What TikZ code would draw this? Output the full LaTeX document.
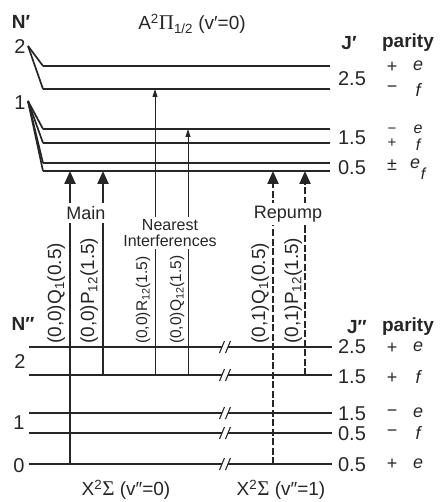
\documentclass[tikz,border=0pt]{standalone}
\usepackage{fontspec}
\setmainfont{Liberation Sans}
\newfontfamily\grk{Liberation Serif}
\usetikzlibrary{arrows.meta}
\newcommand\myfs[1]{\fontsize{#1}{#1}\selectfont}
\begin{document}
\begin{tikzpicture}[x=1pt,y=-1pt,
  every node/.style={text=black!85, inner sep=0pt},
  lvl/.style={line width=2.2pt, draw=black!85},
  fan/.style={line width=1.7pt, draw=black!85},
  brk/.style={line width=1.1pt, draw=black!85},
  bigarrow/.style={line width=2.3pt, draw=black!85, -{Triangle[length=13pt,width=11pt]}},
  thinarrow/.style={line width=0.9pt, draw=black!85, -{Triangle[length=8pt,width=5pt]}},
  dasharrow/.style={bigarrow, dash pattern=on 7pt off 2.5pt},
  numlbl/.style={font=\myfs{20}},
  sgn/.style={font=\myfs{18}},
  par/.style={font=\myfs{18}\itshape},
  small/.style={font=\myfs{15}},
  hdr/.style={font=\myfs{19}\bfseries},
  rot/.style={font=\myfs{19}, rotate=90, anchor=base west},
  rotsmall/.style={rot, font=\myfs{15.5}},
  tag/.style={fill=white, inner sep=2pt}
]
\useasboundingbox (0,0) rectangle (440,502);

% ---------- headers ----------
\node[hdr] (Np) at (21,22) {N′};
\node[font=\myfs{19}] (title) at (192,24) {A\textsuperscript{2}{\grk\myfs{21}Π}\textsubscript{1/2} (v′=0)};
\node[hdr] (Jp) at (349,43) {J′};
\node[hdr] (parU) at (408,43) {parity};
\node[hdr] (Npp) at (23,324) {N″};
\node[hdr] (Jpp) at (357,327) {J″};
\node[hdr] (parL) at (408,327) {parity};

% ---------- upper state ----------
\node[numlbl] (n2u) at (20,47) {2};
\node[numlbl] (n1u) at (20,103) {1};
\coordinate (a2) at (28,46);
\coordinate (a1) at (28,101);
\foreach \y/\n in {66/u2a,89/u2b,129/u1a,143/u1b,163/u1c,171/u1d}{
  \coordinate (\n s) at (43,\y);
  \coordinate (\n e) at (330,\y);
  \draw[lvl] (\n s) -- (\n e);
}
\draw[fan] (a2) -- (u2as);
\draw[fan] (a2) -- (u2bs);
\draw[fan] (a1) -- (u1as);
\draw[fan] (a1) -- (u1bs);
\draw[fan] (a1) -- (u1cs);
\draw[fan] (a1) -- (u1ds);

\node[numlbl] (j25u) at (352,79) {2.5};
\node[sgn] (s25a) at (392,67) {+};
\node[par] (p25a) at (418,66) {e};
\node[sgn] (s25b) at (392,89) {−};
\node[par] (p25b) at (418,90) {f};
\node[numlbl] (j15u) at (352,138) {1.5};
\node[small] (s15a) at (392,131) {−};
\node[small] (s15b) at (392,143) {+};
\node[font=\myfs{16}\itshape] (p15a) at (418,129) {e};
\node[font=\myfs{16}\itshape] (p15b) at (418,145) {f};
\node[numlbl] (j05u) at (352,168) {0.5};
\node[sgn] (s05u) at (392,165) {±};
\node[par] (p05u) at (415,164) {e};
\node[font=\myfs{16}\itshape] (p05f) at (423,174) {f};

% ---------- lower state ----------
\node[numlbl] (n2l) at (20,362) {2};
\node[numlbl] (n1l) at (19,423) {1};
\node[numlbl] (n0l) at (19,466) {0};
\foreach \y/\n in {347/l25,375/l15b,413/l15a,433/l05a,464/l05}{
  \coordinate (\n s) at (29,\y);
  \coordinate (\n e) at (332,\y);
  \coordinate (\n b) at (222,\y);
  \coordinate (\n c) at (228,\y);
  \draw[lvl] (\n s) -- (\n b);
  \draw[lvl] (\n c) -- (\n e);
  \draw[brk] ([shift={(-2.5,6)}]\n b) -- ([shift={(2.5,-6)}]\n b);
  \draw[brk] ([shift={(-2.5,6)}]\n c) -- ([shift={(2.5,-6)}]\n c);
}
\node[numlbl] (j25l) at (352,347) {2.5};
\node[sgn] (s25l) at (392,348) {+};
\node[par] (p25l) at (418,347) {e};
\node[numlbl] (j15l) at (352,377) {1.5};
\node[sgn] (s15l) at (392,378) {+};
\node[par] (p15l) at (418,377) {f};
\node[numlbl] (j15m) at (352,414) {1.5};
\node[sgn] (s15m) at (392,413) {−};
\node[par] (p15m) at (418,413) {e};
\node[numlbl] (j05m) at (352,434) {0.5};
\node[sgn] (s05m) at (392,433) {−};
\node[par] (p05m) at (418,433) {f};
\node[numlbl] (j05l) at (352,465) {0.5};
\node[sgn] (s05l) at (392,464) {+};
\node[par] (p05l) at (418,464) {e};

% ---------- transitions ----------
\coordinate (mq1lo) at (70,464);  \coordinate (mq1hi) at (70,171);
\coordinate (mp12lo) at (103,375); \coordinate (mp12hi) at (103,171);
\coordinate (r12lo) at (155,375); \coordinate (r12hi) at (155,89);
\coordinate (q12lo) at (188,375); \coordinate (q12hi) at (188,129);
\coordinate (rq1lo) at (273,464); \coordinate (rq1hi) at (273,171);
\coordinate (rp12lo) at (305,375); \coordinate (rp12hi) at (305,171);

\draw[bigarrow] (mq1lo) -- (mq1hi);
\draw[bigarrow] (mp12lo) -- (mp12hi);
\draw[thinarrow] (r12lo) -- (r12hi);
\draw[thinarrow] (q12lo) -- (q12hi);
\draw[dasharrow] (rq1lo) -- (rq1hi);
\draw[dasharrow] (rp12lo) -- (rp12hi);

\node[tag, font=\myfs{18}, inner ysep=3pt] (main) at (86,213) {Main};
\node[tag, font=\myfs{18}, inner ysep=3pt] (repump) at (288,214) {Repump};
\node[tag, font=\myfs{16}, align=center, inner ysep=2pt] (near) at (170,233) {Nearest\\Interferences};

\node[rot] (lq1) at (61,344) {(0,0)Q\textsubscript{1}(0.5)};
\node[rot] (lp12) at (94,344) {(0,0)P\textsubscript{12}(1.5)};
\node[rotsmall] (lr12) at (147,344) {(0,0)R\textsubscript{12}(1.5)};
\node[rotsmall] (lq12) at (181,344) {(0,0)Q\textsubscript{12}(1.5)};
\node[rot] (lrq1) at (265,344) {(0,1)Q\textsubscript{1}(0.5)};
\node[rot] (lrp12) at (298,344) {(0,1)P\textsubscript{12}(1.5)};

% ---------- bottom labels ----------
\node[font=\myfs{19}] (x0) at (126,490) {X\textsuperscript{2}{\grk\myfs{21}Σ} (v″=0)};
\node[font=\myfs{19}] (x1) at (281,490) {X\textsuperscript{2}{\grk\myfs{21}Σ} (v″=1)};
\end{tikzpicture}
\end{document}
